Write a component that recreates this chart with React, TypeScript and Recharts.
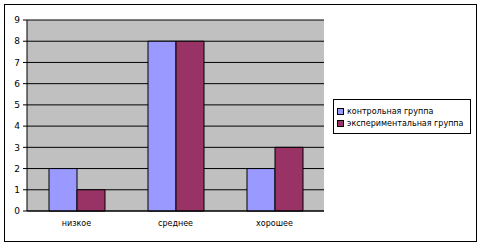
import { BarChart, Bar, XAxis, YAxis, CartesianGrid, Legend } from "recharts";

const categories = ["низкое", "среднее", "хорошее"];
const controlValues = [2, 8, 2];
const experimentValues = [1, 8, 3];
const yTicks = [0, 1, 2, 3, 4, 5, 6, 7, 8, 9];
const edgeTicks = [0, 1, 2, 3];

const data = categories.map((name, i) => ({
  name,
  control: controlValues[i],
  experiment: experimentValues[i],
}));

const FONT = "'DejaVu Sans', Verdana, sans-serif";

const LegendBox = ({ payload }: any) => (
  <div
    style={{
      border: "1px solid #000",
      background: "#fff",
      width: 138,
      padding: "5px 0 4px 3px",
      fontFamily: FONT,
      fontSize: 8,
      color: "#000",
      boxSizing: "border-box",
    }}
  >
    {payload?.map((p: any) => (
      <div key={p.value} style={{ display: "flex", alignItems: "center", height: 12 }}>
        <span
          style={{
            display: "inline-block",
            width: 5,
            height: 5,
            background: p.color,
            border: "1px solid #000",
            marginRight: 3,
          }}
        />
        {p.value}
      </div>
    ))}
  </div>
);

export default function App() {
  return (
    <div style={{ position: "absolute", left: 0, top: 0, width: 481, height: 247, background: "#fff" }}>
      <div
        style={{
          position: "absolute",
          left: 4,
          top: 4,
          width: 473,
          height: 238,
          border: "1px solid #000",
          boxSizing: "border-box",
        }}
      />
      <div style={{ position: "absolute", left: 0, top: 0 }}>
        <BarChart
          width={481}
          height={247}
          data={data}
          margin={{ top: 20, right: 157, bottom: 16, left: 0 }}
          barGap={0}
          barSize={28}
        >
          <CartesianGrid vertical={false} stroke="#000" fill="#C0C0C0" strokeOpacity={1} />
          <XAxis
            xAxisId="edge"
            type="number"
            domain={[0, 3]}
            ticks={edgeTicks}
            height={0}
            tick={false}
            axisLine={false}
            tickLine={{ stroke: "#000" }}
            tickSize={4}
          />
          <XAxis
            dataKey="name"
            height={20}
            axisLine={{ stroke: "#000" }}
            tickLine={false}
            tickSize={0}
            tickMargin={9}
            tick={{ fill: "#000", fontSize: 8, fontFamily: FONT }}
          />
          <YAxis
            width={27}
            domain={[0, 9]}
            ticks={yTicks}
            interval={0}
            axisLine={{ stroke: "#000" }}
            tickLine={{ stroke: "#000" }}
            tickSize={4}
            tickMargin={3}
            tick={{ fill: "#000", fontSize: 9, fontFamily: FONT }}
          />
          <Legend
            layout="vertical"
            align="center"
            verticalAlign="middle"
            content={<LegendBox />}
            wrapperStyle={{ position: "absolute", left: 333, top: 99, width: 140 }}
          />
          <Bar
            dataKey="control"
            name="контрольная группа"
            fill="#9999FF"
            stroke="#000"
            strokeWidth={1}
            isAnimationActive={false}
          />
          <Bar
            dataKey="experiment"
            name="экспериментальная группа"
            fill="#993366"
            stroke="#000"
            strokeWidth={1}
            isAnimationActive={false}
          />
        </BarChart>
      </div>
    </div>
  );
}
